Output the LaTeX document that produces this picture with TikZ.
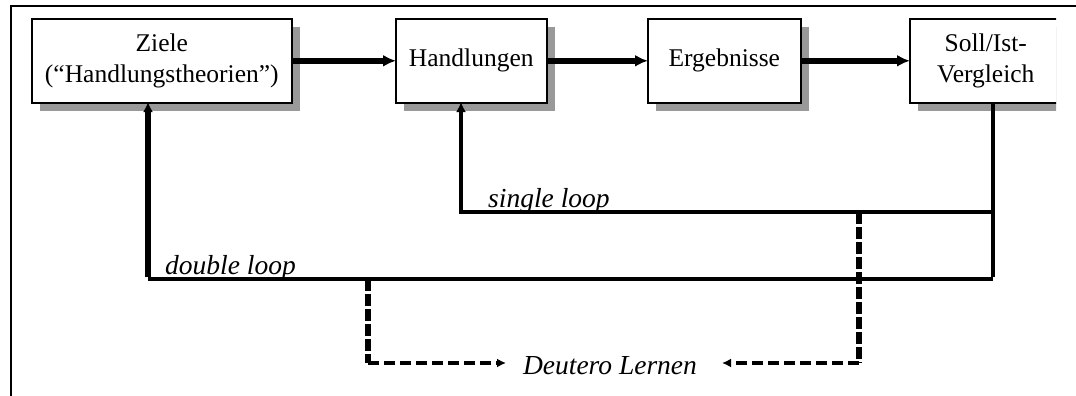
\documentclass[tikz,border=0pt]{standalone}
\usepackage{fontspec}
\setmainfont{Liberation Serif}
\usetikzlibrary{arrows.meta,shadows}
\begin{document}
\begin{tikzpicture}[x=1pt,y=-1pt,
  box/.style={draw, line width=1.6pt, fill=white, minimum height=84pt,
    inner sep=0pt, align=center, anchor=north west,
    font=\fontsize{25.5}{31}\selectfont,
    drop shadow={shadow xshift=8pt, shadow yshift=-8pt, fill=black!40, opacity=1}},
  mainarrow/.style={line width=6pt, -{Latex[length=13pt,width=12pt]}, shorten >=-1pt},
  loopline/.style={line width=3.5pt},
  looparrow/.style={-{Latex[length=10pt,width=10pt]}},
  dashv/.style={line width=5.5pt, dash pattern=on 12pt off 3pt},
  dashh/.style={line width=3.4pt, dash pattern=on 11pt off 5pt},
  dasharrow/.style={-{Latex[length=9pt,width=9pt]}},
  lbl/.style={font=\fontsize{27.5}{30}\selectfont\itshape, inner sep=0pt}]
\useasboundingbox (0,0) rectangle (1076,396);
\fill[white] (0,0) rectangle (1076,396);
% frame
\draw[line width=2.2pt] (11,396) -- (11,6) -- (1076,6);
% boxes
\node[box, minimum width=260pt] (z) at (31,18) {Ziele\\(“Handlungstheorien”)};
\node[box, minimum width=151pt] (h) at (395,18) {Handlungen};
\node[box, minimum width=153pt] (e) at (647,18) {Ergebnisse};
\begin{scope}
  \clip (0,0) rectangle (1056,396);
  \node[box, minimum width=152pt] (s) at (909,18) {Soll/Ist-\\Vergleich};
\end{scope}
% main arrows
\draw[mainarrow] (z.east) -- (h.west);
\draw[mainarrow] (h.east) -- (e.west);
\draw[mainarrow] (e.east) -- (s.west);
% loop coordinates
\coordinate (sb) at (993,102);
\coordinate (c1) at (993,212);
\coordinate (c2) at (993,279);
\coordinate (hb) at (461,102);
\coordinate (dl) at (148,279);
\coordinate (zb) at (148,102);
% single loop
\draw[loopline] (sb) -- ([yshift=1.75pt]c2);
\draw[loopline, looparrow] (c1) -| (hb);
% double loop
\draw[loopline] (c2) -- (dl);
\draw[line width=6pt, looparrow] ([yshift=1.75pt]dl) -- (zb);
% labels
\node[lbl, anchor=base west] (sl) at (488,207) {single loop};
\node[lbl, anchor=base west] (dbl) at (165,274) {double loop};
% deutero
\node[lbl] (dt) at (610,366) {Deutero Lernen};
\coordinate (d1) at (368,279);
\coordinate (d2) at (368,363);
\coordinate (a1) at (506,363);
\coordinate (r1) at (859,212);
\coordinate (r2) at (859,363);
\coordinate (a2) at (722,363);
\draw[dashv] (d1) -- (d2);
\draw[dashh, dasharrow] (d2) -- (a1);
\draw[dashv] (r1) -- (r2);
\draw[dashh, dasharrow] (r2) -- (a2);
\end{tikzpicture}
\end{document}
